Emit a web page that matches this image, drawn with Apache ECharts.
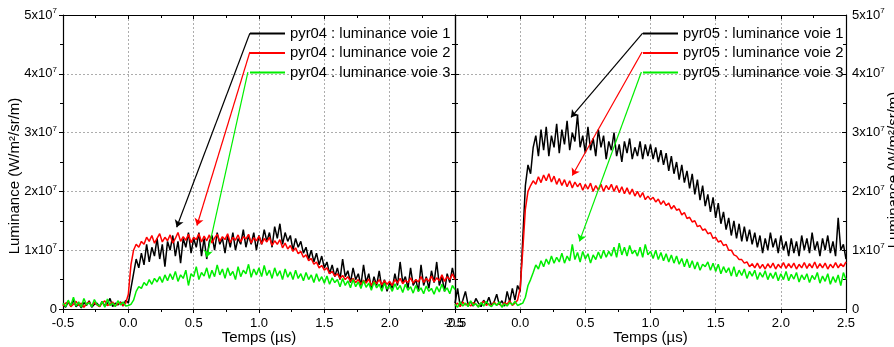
<!DOCTYPE html>
<html>
<head>
<meta charset="utf-8">
<script src="https://cdn.jsdelivr.net/npm/echarts@6/dist/echarts.min.js"></script>
<style>
html, body { margin: 0; padding: 0; background: #fff; }
#chart { width: 894px; height: 347px; }
</style>
</head>
<body>
<div id="chart"></div>
<script>
var FONT = '"Liberation Sans", Arial, sans-serif';

// time sampling of the traces (µs)
var T0 = -0.5, DT = 0.02;
var X_MIN = -0.5, X_MAX = 2.5, X_STEP = 0.5;
var Y_MIN = 0, Y_MAX = 5, Y_STEP = 1; // units of 10^7 W/m²/sr/m

var names04 = ['pyr04 : luminance voie 1', 'pyr04 : luminance voie 2', 'pyr04 : luminance voie 3'];
var names05 = ['pyr05 : luminance voie 1', 'pyr05 : luminance voie 2', 'pyr05 : luminance voie 3'];
var colors = ['#000000', '#ff0000', '#00ee00'];

// values, x10^7
var pyr04_v1 = [0.08,0.03,0.12,0.05,0.15,0.04,0.09,0.02,0.11,0.06,0.14,0.03,0.08,0.1,0.04,0.13,0.05,0.09,0.18,0.04,0.1,0.07,0.12,0.05,0.15,
  0.1,0.35,0.6,0.85,0.7,0.95,0.75,1.1,0.8,1.05,0.9,1.2,0.85,1.1,0.72,1.15,1.0,1.25,0.9,1.15,0.78,1.2,1.05,1.3,0.95,1.2,
  1.05,1.3,0.9,1.2,0.85,1.15,1.25,1.0,1.3,1.1,1.2,0.95,1.25,1.05,1.3,1.0,1.2,1.1,1.35,1.05,1.25,1.1,1.3,1.0,1.25,
  1.1,1.35,1.15,1.3,1.05,1.4,1.2,1.45,1.1,1.3,1.15,1.25,1.0,1.2,1.05,1.15,0.95,1.05,0.85,1.0,0.8,0.95,0.75,0.9,0.7,
  0.8,0.6,0.75,0.55,0.7,0.5,0.85,0.55,0.65,0.45,0.7,0.5,0.6,0.4,0.75,0.45,0.6,0.35,0.55,0.4,0.65,0.35,0.5,0.3,0.45,
  0.35,0.6,0.4,0.8,0.45,0.55,0.35,0.7,0.4,0.5,0.3,0.75,0.4,0.55,0.35,0.65,0.45,0.8,0.4,0.55,0.3,0.6,0.45,0.7,0.5];
var pyr04_v2 = [0.05,0.1,0.12,0.04,0.08,0.13,0.06,0.1,0.03,0.09,0.12,0.05,0.11,0.07,0.04,0.1,0.14,0.06,0.08,0.12,0.05,0.09,0.11,0.06,0.1,
  0.25,0.75,1.0,1.1,1.05,1.15,1.1,1.22,1.15,1.25,1.12,1.2,1.28,1.14,1.22,1.16,1.26,1.12,1.2,1.3,1.15,1.23,1.17,1.27,1.13,1.22,
  1.18,1.28,1.14,1.24,1.16,1.26,1.12,1.21,1.27,1.15,1.23,1.18,1.28,1.13,1.22,1.17,1.26,1.14,1.23,1.19,1.27,1.12,1.21,1.16,1.24,
  1.1,1.2,1.14,1.22,1.08,1.16,1.1,1.18,1.04,1.12,1.02,1.08,0.98,1.04,0.94,0.98,0.88,0.92,0.82,0.86,0.76,0.8,0.7,0.74,0.66,
  0.7,0.6,0.64,0.56,0.6,0.52,0.57,0.5,0.55,0.47,0.52,0.45,0.5,0.42,0.49,0.44,0.51,0.4,0.47,0.43,0.5,0.41,0.48,0.42,0.47,
  0.4,0.5,0.44,0.52,0.43,0.49,0.45,0.53,0.44,0.5,0.46,0.55,0.45,0.52,0.47,0.56,0.46,0.53,0.48,0.58,0.47,0.55,0.5,0.6,0.5];
var pyr04_v3 = [0.1,0.04,0.15,0.06,0.2,0.05,0.12,0.03,0.18,0.07,0.11,0.04,0.16,0.08,0.05,0.13,0.03,0.17,0.06,0.1,0.04,0.14,0.07,0.12,0.05,
  0.06,0.08,0.15,0.3,0.38,0.35,0.45,0.4,0.5,0.42,0.52,0.46,0.55,0.45,0.58,0.48,0.6,0.5,0.64,0.47,0.58,0.52,0.66,0.4,0.6,0.55,
  0.72,0.5,0.62,0.56,0.7,0.52,0.66,0.55,0.75,0.58,0.68,0.52,0.7,0.57,0.64,0.5,0.72,0.55,0.66,0.6,0.76,0.54,0.68,0.58,0.7,
  0.55,0.74,0.57,0.66,0.52,0.7,0.56,0.65,0.5,0.68,0.54,0.63,0.5,0.66,0.52,0.6,0.48,0.62,0.5,0.58,0.45,0.6,0.47,0.55,0.44,
  0.56,0.42,0.53,0.45,0.5,0.38,0.52,0.4,0.48,0.36,0.5,0.38,0.46,0.35,0.48,0.37,0.44,0.32,0.46,0.36,0.42,0.3,0.44,0.34,0.4,
  0.3,0.43,0.33,0.4,0.28,0.42,0.32,0.38,0.27,0.4,0.3,0.36,0.26,0.39,0.3,0.35,0.25,0.38,0.29,0.42,0.3,0.36,0.26,0.4,0.33];

var pyr05_v1 = [0.1,0.35,0.05,0.15,0.3,0.08,0.12,0.05,0.18,0.1,0.04,0.15,0.08,0.2,0.06,0.12,0.25,0.07,0.14,0.05,0.3,0.12,0.35,0.15,0.4,
  0.3,1.2,2.1,2.45,2.3,2.75,2.95,2.6,3.05,2.7,3.1,2.6,2.95,2.75,3.15,2.65,3.05,2.8,3.2,2.7,3.0,2.85,3.3,2.75,2.95,2.65,
  3.1,2.7,2.9,2.6,3.05,2.75,2.95,2.55,2.85,2.7,3.0,2.6,2.8,2.5,2.85,2.65,2.9,2.55,2.75,2.6,2.85,2.55,2.8,2.6,2.8,
  2.55,2.75,2.5,2.7,2.45,2.65,2.35,2.6,2.3,2.5,2.2,2.45,2.15,2.35,2.05,2.3,1.95,2.2,1.85,2.1,1.75,1.95,1.65,1.9,1.55,
  1.8,1.45,1.65,1.35,1.55,1.25,1.5,1.2,1.45,1.15,1.4,1.15,1.35,1.1,1.3,1.05,1.25,0.95,1.2,1.0,1.3,1.05,1.2,0.95,1.25,
  1.0,1.15,0.9,1.2,0.95,1.15,0.9,1.25,1.0,1.2,0.95,1.3,1.0,1.15,0.9,1.2,1.0,1.25,0.95,1.15,0.9,1.55,1.0,1.1,0.85];
var pyr05_v2 = [0.06,0.1,0.04,0.12,0.07,0.09,0.05,0.11,0.08,0.04,0.1,0.13,0.06,0.09,0.05,0.12,0.07,0.1,0.04,0.11,0.08,0.14,0.06,0.1,0.15,
  0.35,1.0,1.7,2.0,2.1,2.18,2.12,2.25,2.15,2.28,2.18,2.3,2.16,2.26,2.12,2.22,2.1,2.2,2.08,2.18,2.06,2.16,2.08,2.14,2.02,2.12,
  2.04,2.14,2.0,2.1,2.02,2.12,2.0,2.1,2.03,2.12,2.0,2.1,1.98,2.08,1.96,2.06,1.95,2.04,1.92,2.0,1.9,1.98,1.86,1.92,1.86,
  1.9,1.82,1.87,1.78,1.84,1.76,1.8,1.7,1.76,1.68,1.7,1.6,1.64,1.54,1.56,1.48,1.5,1.4,1.42,1.34,1.36,1.28,1.3,1.2,1.22,
  1.14,1.16,1.08,1.1,1.0,1.0,0.92,0.9,0.84,0.84,0.78,0.8,0.72,0.77,0.7,0.78,0.69,0.76,0.68,0.77,0.7,0.78,0.68,0.76,0.7,
  0.79,0.69,0.77,0.7,0.78,0.68,0.76,0.7,0.79,0.69,0.77,0.7,0.8,0.69,0.77,0.7,0.78,0.68,0.76,0.7,0.79,0.7,0.77,0.72,0.8];
var pyr05_v3 = [0.08,0.03,0.12,0.05,0.1,0.04,0.14,0.06,0.09,0.03,0.11,0.05,0.13,0.07,0.04,0.1,0.06,0.12,0.03,0.09,0.05,0.11,0.07,0.13,0.06,
  0.08,0.1,0.2,0.4,0.5,0.62,0.75,0.68,0.82,0.72,0.85,0.76,0.9,0.78,0.88,0.8,0.95,0.78,0.9,0.82,1.1,0.84,0.96,0.8,0.98,0.85,
  0.94,0.78,0.92,0.84,0.97,0.86,1.0,0.88,0.98,0.9,1.05,0.88,1.12,0.92,1.05,0.9,1.08,0.94,1.0,0.9,1.05,0.88,1.1,0.92,0.98,
  0.86,1.0,0.84,0.96,0.82,0.94,0.8,0.92,0.78,0.9,0.76,0.86,0.72,0.85,0.7,0.82,0.68,0.8,0.66,0.76,0.72,0.8,0.66,0.78,0.64,
  0.76,0.6,0.72,0.62,0.7,0.56,0.72,0.55,0.66,0.57,0.68,0.52,0.64,0.56,0.66,0.5,0.62,0.54,0.65,0.5,0.61,0.52,0.63,0.48,0.6,
  0.5,0.64,0.48,0.59,0.51,0.62,0.46,0.58,0.5,0.6,0.45,0.57,0.5,0.62,0.44,0.56,0.47,0.6,0.42,0.55,0.45,0.58,0.4,0.62,0.5];

// legend arrows: [corner t, corner y, tip t, tip y]
var arrows04 = [[0.93, 4.69, 0.37, 1.39], [0.93, 4.37, 0.525, 1.42], [0.915, 4.03, 0.6, 0.88]];
var arrows05 = [[0.94, 4.69, 0.39, 3.26], [0.935, 4.37, 0.4, 2.27], [0.93, 4.03, 0.455, 1.15]];

function pairs(vals) {
  return vals.map(function (v, i) { return [+(T0 + i * DT).toFixed(2), v]; });
}

function makeSeries(name, vals, color, gi, arrow) {
  return {
    name: name,
    type: 'line',
    xAxisIndex: gi * 2,
    yAxisIndex: gi * 2,
    data: pairs(vals),
    symbol: 'none',
    showSymbol: false,
    silent: true,
    lineStyle: { color: color, width: 1.5 },
    itemStyle: { color: color },
    markLine: {
      silent: true,
      symbol: ['none', 'arrow'],
      symbolSize: 7,
      label: { show: false },
      lineStyle: { color: color, width: 1.2, type: 'solid' },
      data: [[{ coord: [arrow[0], arrow[1]] }, { coord: [arrow[2], arrow[3]] }]]
    }
  };
}

var yLabel = function (v) {
  return v === 0 ? '{a|0}' : '{a|' + v + 'x10}{s|7}';
};
var yRich = {
  a: { fontSize: 13, fontFamily: FONT, color: '#000' },
  s: { fontSize: 8, fontFamily: FONT, color: '#000', padding: [0, 0, 8, 0] }
};

function xAxisPair(gi) {
  var gridLine = { show: true, lineStyle: { color: '#999', width: 0.8, type: [2, 2] } };
  var base = { type: 'value', gridIndex: gi, min: X_MIN, max: X_MAX, interval: X_STEP };
  return [
    Object.assign({}, base, {
      position: 'bottom',
      axisLine: { show: true, onZero: false, lineStyle: { color: '#000', width: 1.2 } },
      axisTick: { show: true, inside: false, length: 4, lineStyle: { color: '#000' } },
      minorTick: { show: true, splitNumber: 2, length: 3, lineStyle: { color: '#000' } },
      axisLabel: { show: true, margin: 8, color: '#000', fontSize: 13, fontFamily: FONT,
        showMinLabel: true, showMaxLabel: true, formatter: function (v) { return v.toFixed(1); } },
      splitLine: gridLine,
      name: 'Temps (µs)',
      nameLocation: 'middle',
      nameGap: 21,
      nameMoveOverlap: false,
      nameTextStyle: { color: '#000', fontSize: 15, fontFamily: FONT }
    }),
    Object.assign({}, base, {
      position: 'top',
      axisLine: { show: true, onZero: false, lineStyle: { color: '#000', width: 1.2 } },
      axisTick: { show: true, inside: true, length: 4, lineStyle: { color: '#000' } },
      minorTick: { show: true, splitNumber: 2, length: 3, lineStyle: { color: '#000' } },
      axisLabel: { show: false },
      splitLine: { show: false }
    })
  ];
}

function yAxisPair(gi, labelSide) {
  var base = { type: 'value', gridIndex: gi, min: Y_MIN, max: Y_MAX, interval: Y_STEP };
  var left = Object.assign({}, base, {
    position: 'left',
    axisLine: { show: true, onZero: false, lineStyle: { color: '#000', width: 1.2 } },
    axisTick: { show: true, inside: labelSide !== 'left', length: 4, lineStyle: { color: '#000' } },
    minorTick: { show: true, splitNumber: 2, length: 3, lineStyle: { color: '#000' } },
    axisLabel: labelSide === 'left'
      ? { show: true, margin: 6, formatter: yLabel, rich: yRich }
      : { show: false },
    splitLine: { show: true, lineStyle: { color: '#999', width: 0.8, type: [2, 2] } }
  });
  var right = Object.assign({}, base, {
    position: 'right',
    axisLine: { show: true, onZero: false, lineStyle: { color: '#000', width: 1.2 } },
    axisTick: { show: true, inside: true, length: 4, lineStyle: { color: '#000' } },
    minorTick: { show: true, splitNumber: 2, length: 3, lineStyle: { color: '#000' } },
    axisLabel: labelSide === 'right'
      ? { show: true, margin: 6, formatter: yLabel, rich: yRich }
      : { show: false },
    splitLine: { show: false }
  });
  return [left, right];
}

function legendFor(names, left) {
  return {
    data: names,
    orient: 'vertical',
    left: left,
    top: 26,
    padding: 0,
    icon: 'rect',
    itemWidth: 35,
    itemHeight: 2,
    itemGap: 4.5,
    selectedMode: false,
    textStyle: { color: '#000', fontSize: 14.8, fontFamily: FONT }
  };
}

var chart = echarts.init(document.getElementById('chart'), null, { renderer: 'canvas' });

var series = [];
[pyr04_v1, pyr04_v2, pyr04_v3].forEach(function (vals, k) {
  series.push(makeSeries(names04[k], vals, colors[k], 0, arrows04[k]));
});
[pyr05_v1, pyr05_v2, pyr05_v3].forEach(function (vals, k) {
  series.push(makeSeries(names05[k], vals, colors[k], 1, arrows05[k]));
});

chart.setOption({
  animation: false,
  backgroundColor: '#fff',
  grid: [
    { left: 63, right: 439, top: 15, bottom: 38, containLabel: false, outerBoundsMode: 'none' },
    { left: 455, right: 48, top: 15, bottom: 38, containLabel: false, outerBoundsMode: 'none' }
  ],
  xAxis: xAxisPair(0).concat(xAxisPair(1)),
  yAxis: yAxisPair(0, 'left').concat(yAxisPair(1, 'right')),
  legend: [legendFor(names04, 250), legendFor(names05, 643)],
  graphic: [
    { type: 'text', x: 15, y: 176, rotation: Math.PI / 2,
      style: { text: 'Luminance (W/m²/sr/m)', fill: '#000', font: '15px ' + FONT, align: 'center', verticalAlign: 'middle' } },
    { type: 'text', x: 894, y: 170, rotation: Math.PI / 2,
      style: { text: 'Luminance (W/m²/sr/m)', fill: '#000', font: '15px ' + FONT, align: 'center', verticalAlign: 'middle' } }
  ],
  series: series
});
</script>
</body>
</html>
